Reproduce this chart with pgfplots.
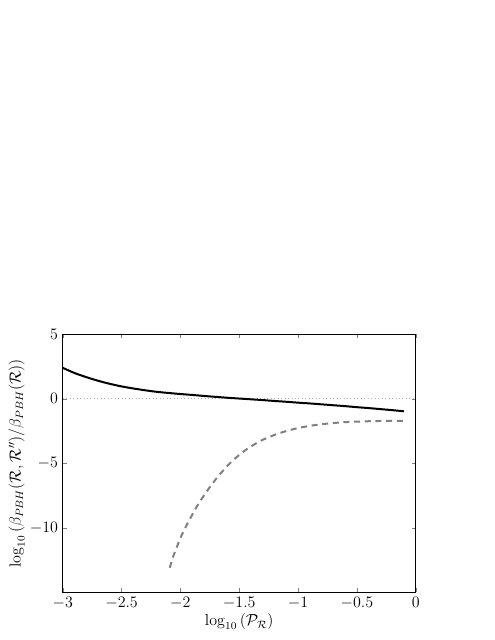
\documentclass[border=0pt]{standalone}
\usepackage{amsmath,amssymb}
\usepackage{pgfplots}
\pgfplotsset{compat=1.18}

\begin{document}
\begin{tikzpicture}
% page = 495 x 640 px, 1 px = 0.75 pt
\useasboundingbox (0,0) rectangle (371.25pt,480pt);
\begin{axis}[
    at={(47.03pt,35.78pt)}, anchor=south west,
    scale only axis,
    width=264.75pt, height=193.5pt,
    xmin=-3, xmax=0,
    ymin=-15, ymax=5,
    xtick={-3,-2.5,-2,-1.5,-1,-0.5,0},
    ytick={-10,-5,0,5},
    xticklabels={$-3$,$-2.5$,$-2$,$-1.5$,$-1$,$-0.5$,$0$},
    tick align=inside,
    major tick length=3pt,
    axis line style={line width=0.7pt},
    tick label style={font=\fontsize{11.5}{13}\selectfont},
    label style={font=\fontsize{12}{14}\selectfont},
    xlabel={$\log_{10}\left(\mathcal{P}_{\mathcal{R}}\right)$},
    ylabel={$\log_{10}\left(\beta_{PBH}(\mathcal{R},\mathcal{R}'')/\beta_{PBH}(\mathcal{R})\right)$},
    xlabel style={yshift=3pt},
    ylabel style={yshift=-3pt},
]
\addplot[gray!60, dotted, line width=0.6pt] coordinates {(-3,0)(0,0)};

\addplot[black, line width=1.5pt, smooth] coordinates {
    (-3,2.4)(-2.9,2.0)(-2.8,1.68)(-2.7,1.4)(-2.6,1.16)(-2.5,0.96)
    (-2.4,0.8)(-2.3,0.66)(-2.2,0.54)(-2.1,0.45)(-2,0.37)(-1.9,0.3)
    (-1.8,0.22)(-1.7,0.15)(-1.6,0.08)(-1.5,0.02)(-1.4,-0.04)(-1.3,-0.1)
    (-1.2,-0.17)(-1.1,-0.23)(-1,-0.3)(-0.9,-0.36)(-0.8,-0.43)(-0.7,-0.5)
    (-0.6,-0.57)(-0.5,-0.65)(-0.4,-0.72)(-0.3,-0.8)(-0.2,-0.88)(-0.1,-0.97)
};

\addplot[gray, line width=1.5pt, dash pattern=on 4.5pt off 3.5pt, smooth] coordinates {
    (-2.09,-13.1)(-2.06,-12.2)(-2.03,-11.5)(-2.0,-10.8)(-1.95,-9.85)
    (-1.9,-9.0)(-1.85,-8.2)(-1.8,-7.5)(-1.75,-6.85)(-1.7,-6.25)
    (-1.65,-5.7)(-1.6,-5.2)(-1.55,-4.75)(-1.5,-4.35)(-1.45,-4.0)
    (-1.4,-3.7)(-1.35,-3.42)(-1.3,-3.18)(-1.2,-2.8)(-1.1,-2.5)
    (-1,-2.27)(-0.9,-2.1)(-0.8,-1.97)(-0.7,-1.88)(-0.6,-1.81)
    (-0.5,-1.77)(-0.4,-1.74)(-0.3,-1.72)(-0.2,-1.71)(-0.1,-1.71)
};
\end{axis}
\end{tikzpicture}
\end{document}
